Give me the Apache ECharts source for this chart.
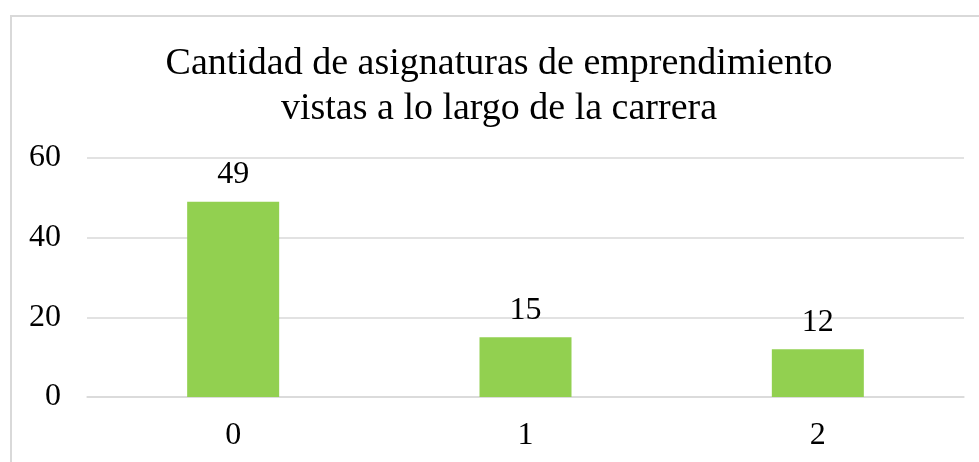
<!DOCTYPE html>
<html>
<head>
<meta charset="utf-8">
<script src="https://cdn.jsdelivr.net/npm/echarts@6/dist/echarts.min.js"></script>
<style>html,body{margin:0;padding:0;background:#fff}#c{width:979px;height:462px}</style>
</head>
<body>
<div id="c"></div>
<script>
const titleLines = ["Cantidad de asignaturas de emprendimiento", "vistas a lo largo de la carrera"];
const categories = ["0", "1", "2"];
const values = [49, 15, 12];
const yTicks = { min: 0, max: 60, interval: 20 };

const font = "'Liberation Serif', 'Times New Roman', serif";
const chart = echarts.init(document.getElementById('c'), null, { renderer: 'canvas' });
chart.setOption({
  backgroundColor: '#ffffff',
  animation: false,
  title: {
    text: titleLines.join('\n'),
    left: 494,
    textAlign: 'center',
    top: 37,
    textStyle: { fontFamily: font, fontSize: 38, fontWeight: 'normal', color: '#000', lineHeight: 45 }
  },
  graphic: [{
    type: 'rect',
    shape: { x: 11, y: 16, width: 1200, height: 800 },
    style: { fill: 'none', stroke: '#d9d9d9', lineWidth: 2 },
    silent: true
  }],
  grid: { left: 87, right: 15, top: 158, bottom: 65, containLabel: false },
  xAxis: {
    type: 'category',
    data: categories,
    axisLine: { show: true, lineStyle: { color: '#d9d9d9', width: 1.5 } },
    axisTick: { show: false },
    axisLabel: { fontFamily: font, fontSize: 32, color: '#000', margin: 23 }
  },
  yAxis: {
    type: 'value',
    min: yTicks.min, max: yTicks.max, interval: yTicks.interval,
    axisLine: { show: false },
    axisTick: { show: false },
    splitLine: { lineStyle: { color: '#d9d9d9', width: 1.5 } },
    axisLabel: { fontFamily: font, fontSize: 32, color: '#000', margin: 26 }
  },
  series: [{
    type: 'bar',
    data: values,
    barWidth: 92,
    itemStyle: { color: '#92d050' },
    label: { show: true, position: 'top', distance: 11, fontFamily: font, fontSize: 32, color: '#000' }
  }]
});
</script>
</body>
</html>
